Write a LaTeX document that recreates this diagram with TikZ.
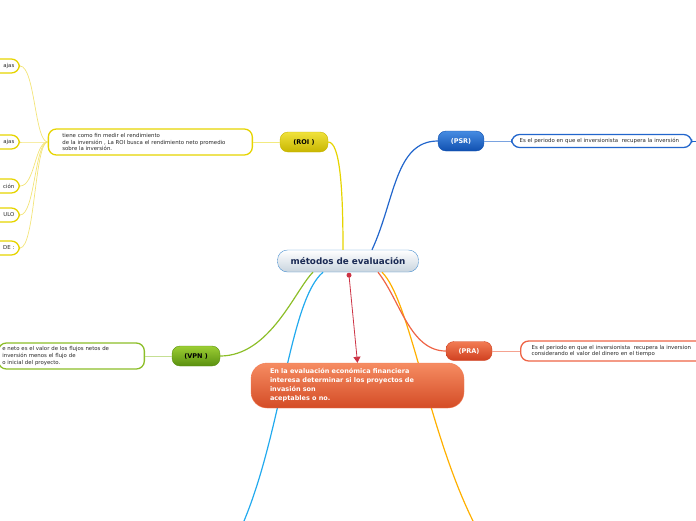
\documentclass[tikz,border=0pt]{standalone}
\usepackage{fontspec}
\setmainfont{DejaVu Sans}
\usetikzlibrary{arrows.meta, positioning}
\definecolor{mapNavy}{RGB}{26,42,84}
\definecolor{mapFrame}{RGB}{74,144,208}
\definecolor{mapYellow}{RGB}{230,212,0}
\definecolor{mapYellowTop}{RGB}{240,226,60}
\definecolor{mapYellowBot}{RGB}{200,182,0}
\definecolor{mapPale}{RGB}{243,228,120}
\definecolor{mapBlue}{RGB}{34,102,204}
\definecolor{mapBlueTop}{RGB}{70,140,226}
\definecolor{mapBlueBot}{RGB}{16,80,176}
\definecolor{mapGreen}{RGB}{140,190,40}
\definecolor{mapGreenTop}{RGB}{156,206,52}
\definecolor{mapGreenBot}{RGB}{90,144,16}
\definecolor{mapRed}{RGB}{238,100,70}
\definecolor{mapRedTop}{RGB}{242,124,84}
\definecolor{mapRedBot}{RGB}{208,64,32}
\definecolor{mapCyan}{RGB}{34,170,238}
\definecolor{mapAmber}{RGB}{255,176,0}
\definecolor{mapArrow}{RGB}{204,51,68}
\definecolor{mapText}{RGB}{40,40,40}

\begin{document}
\begin{tikzpicture}[x=1pt, y=-1pt,
    branch/.style 2 args={rounded corners=8pt, top color=#1, bottom color=#2, draw=#2,
      minimum height=20, inner sep=0, font=\fontsize{6.5}{8}\selectfont\bfseries},
    note/.style={draw=#1, fill=white, rounded corners=8pt, line width=1.3pt, text=mapText,
      align=left, inner ysep=3, font=\fontsize{5.4}{6.8}\selectfont},
    link/.style={line width=1.2pt, draw=#1},
    fan/.style={line width=0.7pt, draw=mapPale}]
  \useasboundingbox (0,0) rectangle (696,520);
  \clip (0,0) rectangle (696,520);

  \node[rounded corners=10pt, top color=white, bottom color={rgb,255:red,200;green,212;blue,222},
    draw=mapFrame, minimum width=141, minimum height=22, inner sep=0, text=mapNavy,
    font=\fontsize{8.8}{10}\selectfont\bfseries] (c) at (348,261) {métodos de evaluación};

  \coordinate (cyanend) at (244,521);
  \coordinate (amberend) at (473,521);
  \draw[link=mapCyan] ([xshift=-25]c.south) .. controls (290,300) and (282,430) .. (cyanend);
  \draw[link=mapAmber] ([xshift=34]c.south) .. controls (410,300) and (428,430) .. (amberend);

  \node[rounded corners=16pt, top color={rgb,255:red,246;green,140;blue,98},
    bottom color={rgb,255:red,212;green,76;blue,38}, draw=mapRedTop, text=white,
    minimum width=213, minimum height=45, text width=175, inner xsep=19, align=left,
    font=\fontsize{6.5}{9}\selectfont\bfseries] (big) at (357.5,385.5)
    {En la evaluación económica financiera\\ interesa determinar si los proyectos de\\ invasión son\\ aceptables o no.};

  \node[branch={mapYellowTop}{mapYellowBot}, minimum width=48, text=black] (roi) at (304,142) {(ROI )};
  \node[branch={mapBlueTop}{mapBlueBot}, minimum width=46, text=white] (psr) at (461,141) {(PSR)};
  \node[branch={mapRedTop}{mapRedBot}, minimum width=46, minimum height=19, text=white] (pra) at (469,351) {(PRA)};
  \node[branch={mapGreenTop}{mapGreenBot}, minimum width=48, text=black] (vpn) at (196,356) {(VPN )};

  \node[note=mapYellow, anchor=east, text width=176, inner xsep=14, minimum height=26] (roinote) at (253,142)
    {tiene como fin medir el rendimiento\\ de la inversión , La ROI busca el rendimiento neto promedio\\ sobre la inversión.};
  \node[note=mapBlue, anchor=west, text width=164, inner xsep=8, minimum height=13] (psrnote) at (511,141)
    {Es el periodo en que el inversionista\ \ recupera la inversión};
  \node[note=mapRed, anchor=west, text width=180, inner xsep=11, minimum height=20] (pranote) at (520,351)
    {Es el periodo en que el inversionista\ \ recupera la inversion\\ considerando el valor del dinero en el tiempo};
  \node[note=mapGreen, anchor=east, text width=138, inner xsep=4, minimum height=26] (vpnnote) at (145,356)
    {e neto es el valor de los flujos netos de\\ inversión menos el flujo de\\ o inicial del proyecto.};

  \node[note=mapYellow, anchor=east, text width=40, align=right, inner xsep=5, minimum height=14] (ya) at (20,66) {ajas};
  \node[note=mapYellow, anchor=east, text width=40, align=right, inner xsep=5, minimum height=14] (yb) at (20,142) {ajas};
  \node[note=mapYellow, anchor=east, text width=40, align=right, inner xsep=5, minimum height=14] (yc) at (20,186) {ción};
  \node[note=mapYellow, anchor=east, text width=40, align=right, inner xsep=5, minimum height=14] (yd) at (20,215) {ULO};
  \node[note=mapYellow, anchor=east, text width=40, align=right, inner xsep=5, minimum height=14] (ye) at (20,248) {DE :};
  \coordinate (psrout) at (700,141);

  \draw[link=mapYellow] (roi.east) .. controls +(12,0) and +(0,-60) .. ([xshift=-5]c.north);
  \draw[link=mapBlue] ([xshift=24]c.north) .. controls (395,200) and (395,141) .. (psr.west);
  \draw[link=mapRed] ([xshift=30]c.south) .. controls (400,300) and (410,351) .. (pra.west);
  \draw[link=mapGreen] ([xshift=-35]c.south) .. controls (295,290) and (270,356) .. (vpn.east);

  \draw[line width=0.8pt, draw=mapYellow!50] (roi.west) -- (roinote.east);
  \draw[line width=0.8pt, draw=mapBlue!60] (psr.east) -- (psrnote.west);
  \draw[line width=0.8pt, draw=mapRed!60] (pra.east) -- (pranote.west);
  \draw[line width=0.8pt, draw=mapGreen!50] (vpn.west) -- (vpnnote.east);
  \draw[line width=0.8pt, draw=mapBlue] (psrnote.east) -- (psrout);

  \foreach \leaf in {ya,yb,yc,yd,ye}
    \draw[fan] (roinote.west) .. controls +(-13,0) and +(15,0) .. (\leaf.east);

  \fill[mapArrow] ([xshift=1,yshift=-3]c.south) circle (2.5pt);
  \draw[mapArrow, line width=0.8pt, -{Triangle[width=7pt,length=6pt]}]
    ([xshift=1,yshift=-3]c.south) -- (big.north);
\end{tikzpicture}
\end{document}
